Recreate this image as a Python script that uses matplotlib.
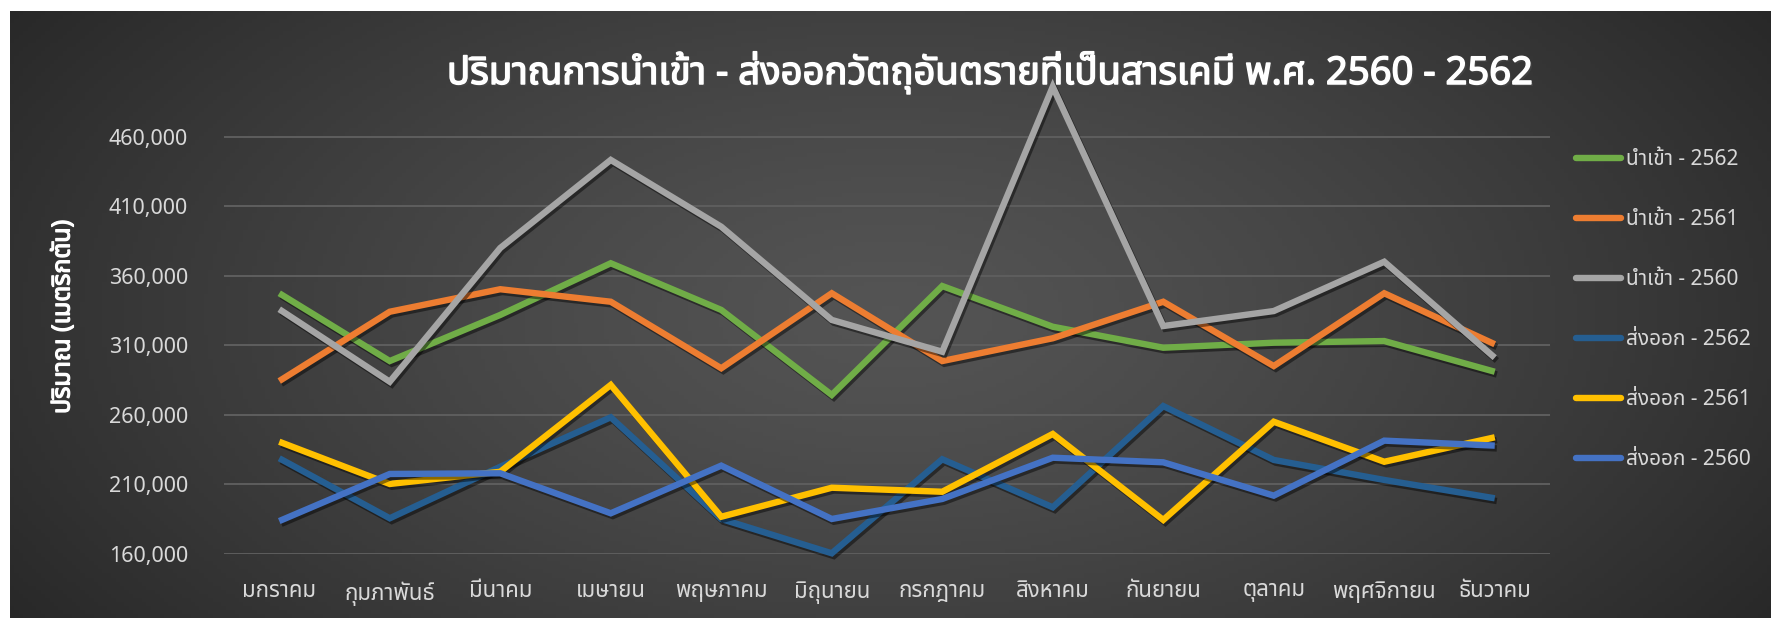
import numpy as np
import matplotlib
matplotlib.use('Agg')
from matplotlib import pyplot as plt
from matplotlib import font_manager
from matplotlib.ft2font import FT2Font
import matplotlib.patheffects as pe

months = ['มกราคม', 'กุมภาพันธ์', 'มีนาคม', 'เมษายน', 'พฤษภาคม', 'มิถุนายน',
          'กรกฎาคม', 'สิงหาคม', 'กันยายน', 'ตุลาคม', 'พฤศจิกายน', 'ธันวาคม']

import_2562 = [347500, 298700, 331900, 369100, 335500, 274300,
               352700, 323400, 308300, 311900, 313100, 291000]
import_2561 = [284300, 334200, 350400, 341400, 293500, 347500,
               298700, 315100, 341400, 295100, 347500, 310800]
import_2560 = [336000, 283800, 380100, 443500, 395400, 328300,
               305400, 496200, 323900, 334700, 370200, 301100]
export_2562 = [228700, 185500, 222600, 258200, 185000, 160300,
               228000, 193400, 266300, 227500, 213100, 199900]
export_2561 = [240600, 210200, 219000, 281500, 186600, 207500,
               204600, 246200, 184300, 255000, 226200, 243800]
export_2560 = [183500, 217400, 217900, 189100, 223400, 185000,
               199400, 229100, 225800, 201800, 241400, 237800]

series_labels = ['นำเข้า - 2562', 'นำเข้า - 2561', 'นำเข้า - 2560',
                 'ส่งออก - 2562', 'ส่งออก - 2561', 'ส่งออก - 2560']
series_colors = ['#70AD47', '#ED7D31', '#A5A5A5', '#255E91', '#FFC000', '#4472C4']
y_ticks = [160000, 210000, 260000, 310000, 360000, 410000, 460000]

title = 'ปริมาณการนำเข้า - ส่งออกวัตถุอันตรายที่เป็นสารเคมี พ.ศ. 2560 - 2562'
y_label = 'ปริมาณ (เมตริกตัน)'


# find an installed font that has Thai glyphs
def find_thai_font():
    prefer = ['Noto Sans Thai', 'Noto Sans Thai UI', 'Sarabun', 'Loma', 'Garuda',
              'Tlwg Typo', 'Kinnari', 'Norasi']
    found = {}
    for f in font_manager.fontManager.ttflist:
        try:
            cmap = FT2Font(f.fname).get_charmap()
        except Exception:
            continue
        if 0x0E01 in cmap and 0x0E33 in cmap:
            found[f.name] = f.fname
    for p in prefer:
        if p in found:
            return p
    if found:
        return sorted(found)[0]
    return None


thai = find_thai_font()
families = ([thai] if thai else []) + ['DejaVu Sans']
plt.rcParams['font.family'] = families

W, H = 1771, 618
fig = plt.figure(figsize=(W / 100, H / 100), dpi=100)
fig.patch.set_facecolor('white')

# dark radial gradient background (chart area)
bg = fig.add_axes([10 / W, 0, 1 - 10 / W, (H - 11) / H])
bg.set_axis_off()
gx, gy = np.meshgrid(np.linspace(0, 1, 400), np.linspace(0, 1, 150))
r = np.sqrt(((gx - 0.5) / 0.62) ** 2 + ((gy - 0.5) / 0.95) ** 2)
shade = 0.33 - 0.18 * np.clip(r, 0, 1) ** 1.3
bg.imshow(np.dstack([shade, shade, shade]), aspect='auto', extent=[0, 1, 0, 1])
bg.set_zorder(0)

# 160,000 sits at y=553.7 px and 50,000 spans 69.45 px
px_per_unit = 69.45 / 50000
ymin, ymax = 160000, 505000
bottom_px = 553.7
top_px = bottom_px - (ymax - ymin) * px_per_unit
ax = fig.add_axes([224 / W, (H - bottom_px) / H, (1550 - 224) / W, (bottom_px - top_px) / H])
ax.set_facecolor('none')
ax.set_zorder(1)

x = np.arange(len(months))
all_series = [import_2562, import_2561, import_2560, export_2562, export_2561, export_2560]
shadow = [pe.SimpleLineShadow(offset=(1.5, -2), shadow_color='black', alpha=0.45), pe.Normal()]
for vals, lab, col in zip(all_series, series_labels, series_colors):
    ax.plot(x, vals, color=col, lw=4.6, label=lab, solid_joinstyle='miter',
            solid_capstyle='butt', path_effects=shadow, clip_on=False)

ax.set_xlim(-0.5, 11.5)
ax.set_ylim(ymin, ymax)
ax.set_yticks(y_ticks)
ax.set_yticklabels([f'{v:,}' for v in y_ticks])
ax.set_xticks(x)
ax.set_xticklabels(months)
ax.tick_params(axis='both', length=0, colors='#D9D9D9')
ax.tick_params(axis='y', pad=26, labelsize=15.5)
ax.tick_params(axis='x', pad=20, labelsize=16)
for s in ax.spines.values():
    s.set_visible(False)
for v in y_ticks:
    ax.axhline(v, color='#5E5E5E', lw=1.4, zorder=0)

bold = [pe.withStroke(linewidth=0.9, foreground='white')]
fig.text(63 / W, 1 - 317 / H, y_label, color='white', fontsize=18, rotation=90,
         ha='center', va='center', path_effects=bold)

fig.text(990 / W, 1 - 73 / H, title, color='white', fontsize=27.5,
         ha='center', va='center',
         path_effects=[pe.SimplePatchShadow(offset=(1.5, -1.5), alpha=0.5),
                       pe.withStroke(linewidth=1.1, foreground='white')])

leg = ax.legend(loc='upper left', bbox_to_anchor=(1568 / W, 1 - 141 / H),
                bbox_transform=fig.transFigure, frameon=False, fontsize=15,
                labelcolor='#D9D9D9', handlelength=2.15, handletextpad=0.25,
                labelspacing=1.87, borderaxespad=0)
for h in leg.get_lines():
    h.set_linewidth(4.6)
    h.set_path_effects([])
    h.set_solid_capstyle('round')

fig.savefig('out.png', dpi=100, facecolor=fig.get_facecolor())
